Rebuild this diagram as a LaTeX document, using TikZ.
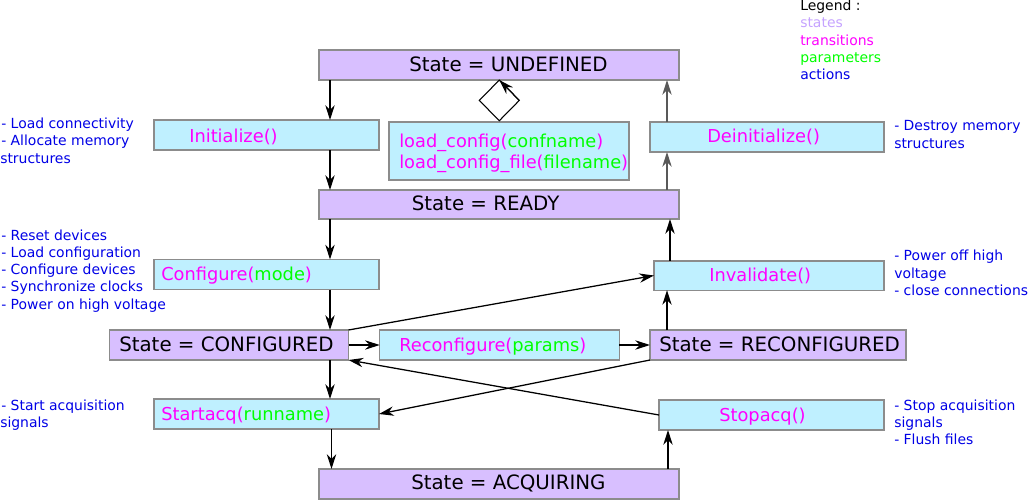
\documentclass[tikz,border=0pt]{standalone}
\usepackage{fontspec}
\setmainfont{DejaVu Sans}
\usetikzlibrary{arrows.meta,shapes.geometric}
\definecolor{statefill}{HTML}{D8BFFF}
\definecolor{transfill}{HTML}{BFF0FF}
\definecolor{boxline}{HTML}{8C8C8C}
\definecolor{trcol}{HTML}{FF00FF}
\definecolor{parcol}{HTML}{00FF00}
\definecolor{actcol}{HTML}{0000E6}
\definecolor{stlegend}{HTML}{C5A3FF}
\begin{document}
\begin{tikzpicture}[x=0.75pt,y=-0.75pt,
 box/.style={draw=boxline,line width=1pt,inner sep=0pt,outer sep=0pt,rectangle},
 statebox/.style={box,fill=statefill},
 transbox/.style={box,fill=transfill},
 statetxt/.style={anchor=base west,inner sep=0pt,font=\fontsize{14.85pt}{18pt}\selectfont},
 transtxt/.style={anchor=base west,inner sep=0pt,font=\fontsize{13.35pt}{16pt}\selectfont,text=trcol},
 sidetxt/.style={anchor=base west,inner sep=0pt,font=\fontsize{10.45pt}{13pt}\selectfont,text=actcol},
 conn/.style={draw=black,line width=0.95pt,-{Stealth[length=11pt,width=7pt,inset=3.5pt]}},
 gconn/.style={conn,draw=black!65},
]
\useasboundingbox (0,0) rectangle (1028,500);

% boxes
\node[statebox,minimum width=270pt,minimum height=22.5pt] (undef) at (499,65) {};
\node[transbox,minimum width=168.75pt,minimum height=22.5pt] (init) at (266.5,135) {};
\node[transbox,minimum width=180pt,minimum height=43.5pt] (loadcfg) at (509,151) {};
\node[transbox,minimum width=175.5pt,minimum height=22.5pt] (deinit) at (767,137) {};
\node[statebox,minimum width=270pt,minimum height=21.75pt] (ready) at (499,204.5) {};
\node[transbox,minimum width=168.75pt,minimum height=22.5pt] (config) at (266.5,274.5) {};
\node[transbox,minimum width=172.5pt,minimum height=22pt] (inval) at (769,275.5) {};
\node[statebox,minimum width=179.25pt,minimum height=22.5pt] (configured) at (229,345) {};
\node[transbox,minimum width=179.6pt,minimum height=22.5pt] (reconf) at (499.5,345) {};
\node[statebox,minimum width=192pt,minimum height=22.5pt] (reconfigured) at (778,345) {};
\node[transbox,minimum width=168.75pt,minimum height=22.5pt] (startacq) at (266.5,414) {};
\node[transbox,minimum width=168.75pt,minimum height=22.5pt] (stopacq) at (771.5,415) {};
\node[statebox,minimum width=270pt,minimum height=22.5pt] (acq) at (499,484) {};
\node[draw=black,line width=0.8pt,diamond,minimum width=30pt,minimum height=30.5pt,inner sep=0pt,outer sep=0pt] (diam) at (499.3,100.4) {};

% box texts
\node[statetxt] (undefT) at (409,71) {State = UNDEFINED};
\node[transtxt] (loadT1) at (399,147) {load\_config(\textcolor{parcol}{confname})};
\node[transtxt] (loadT2) at (399,168.3) {load\_config\_file(\textcolor{parcol}{filename})};
\node[statetxt] (readyT) at (411.5,210) {State = READY};
\node[transtxt] (initT) at (189,142) {Initialize()};
\node[transtxt] (deinitT) at (707,142) {Deinitialize()};
\node[transtxt] (configT) at (161,280.5) {Configure(\textcolor{parcol}{mode})};
\node[transtxt] (invalT) at (709,281) {Invalidate()};
\node[statetxt] (configuredT) at (119,351) {State = CONFIGURED};
\node[transtxt] (reconfT) at (399,351) {Reconfigure(\textcolor{parcol}{params})};
\node[statetxt] (reconfiguredT) at (659,351) {State = RECONFIGURED};
\node[transtxt] (startT) at (161,420.7) {Startacq(\textcolor{parcol}{runname})};
\node[transtxt] (stopT) at (719,421) {Stopacq()};
\node[statetxt] (acqT) at (411,489.3) {State = ACQUIRING};

% connectors
\coordinate (cl) at (330,0);
\coordinate (clb) at (331.5,0);
\coordinate (cr) at (667,0);
\coordinate (crb) at (670,0);
\coordinate (crc) at (668,0);
\draw[conn] (undef.south -| cl) -- (init.north -| cl);
\draw[conn] (init.south -| cl) -- (ready.north -| cl);
\draw[conn] (ready.south -| cl) -- (config.north -| cl);
\draw[conn] (config.south -| cl) -- (configured.north -| cl);
\draw[conn] (configured.south -| cl) -- (startacq.north -| cl);
\draw[conn] (startacq.south -| clb) -- (acq.north -| clb);
\draw[gconn] (deinit.north -| cr) -- (undef.south -| cr);
\draw[gconn] (ready.north -| cr) -- (deinit.south -| cr);
\draw[conn] (inval.north -| crb) -- (ready.south -| crb);
\draw[conn] (reconfigured.north -| cr) -- (inval.south -| cr);
\draw[conn] (acq.north -| crc) -- (stopacq.south -| crc);
\draw[conn] (configured.north east) -- (inval.west);
\draw[conn] (configured.east) -- (reconf.west);
\draw[conn] (reconf.east) -- (reconfigured.west);
\draw[conn] (reconfigured.south west) -- (startacq.east);
\draw[conn] (stopacq.west) -- (configured.south east);
\draw[conn,line width=0.8pt] (diam.east) -- (diam.north);

% side texts (actions)
\node[sidetxt] (a1) at (1,128.3) {- Load connectivity};
\node[sidetxt] (a2) at (1,145.7) {- Allocate memory};
\node[sidetxt] (a3) at (0,163) {structures};
\node[sidetxt] (b1) at (1,240) {- Reset devices};
\node[sidetxt] (b2) at (1,257.3) {- Load configuration};
\node[sidetxt] (b3) at (1,274.6) {- Configure devices};
\node[sidetxt] (b4) at (1,291.9) {- Synchronize clocks};
\node[sidetxt] (b5) at (1,309.2) {- Power on high voltage};
\node[sidetxt] (c1) at (1,410) {- Start acquisition};
\node[sidetxt] (c2) at (0,427.3) {signals};
\node[sidetxt] (d1) at (894,130.7) {- Destroy memory};
\node[sidetxt] (d2) at (894,148) {structures};
\node[sidetxt] (e1) at (894,260.7) {- Power off high};
\node[sidetxt] (e2) at (894,278) {voltage};
\node[sidetxt] (e3) at (894,295.3) {- close connections};
\node[sidetxt] (f1) at (894,410) {- Stop acquisition};
\node[sidetxt] (f2) at (894,427.3) {signals};
\node[sidetxt] (f3) at (894,444.6) {- Flush files};

% legend
\node[sidetxt,text=black] (lg0) at (800,10.5) {Legend :};
\node[sidetxt,text=stlegend] (lg1) at (800,27.8) {states};
\node[sidetxt,text=trcol] (lg2) at (800,45.1) {transitions};
\node[sidetxt,text=parcol] (lg3) at (800,62.4) {parameters};
\node[sidetxt,text=actcol] (lg4) at (800,79.7) {actions};
\end{tikzpicture}
\end{document}
